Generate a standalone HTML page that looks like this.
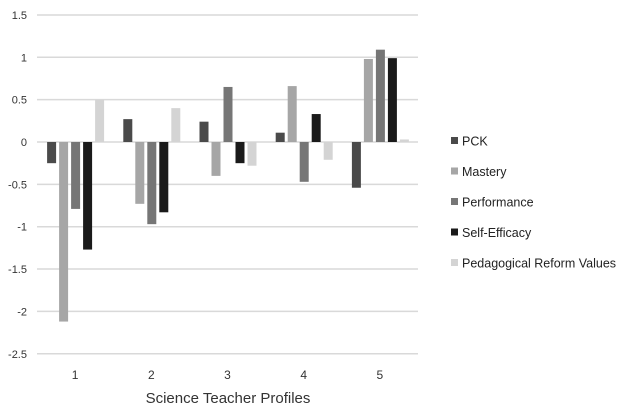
<!DOCTYPE html>
<html><head><meta charset="utf-8"><style>
body{margin:0;background:#fff;}
svg text{font-family:"Liberation Sans",sans-serif;}
</style></head><body>
<svg id="chart" width="627" height="408" xmlns="http://www.w3.org/2000/svg"></svg>
<script>
const categories=["1","2","3","4","5"];
const seriesNames=["PCK","Mastery","Performance","Self-Efficacy","Pedagogical Reform Values"];
const pck=[-0.25,0.27,0.24,0.11,-0.54];
const mastery=[-2.12,-0.73,-0.4,0.66,0.98];
const performance=[-0.79,-0.97,0.65,-0.47,1.09];
const selfEfficacy=[-1.27,-0.83,-0.25,0.33,0.99];
const reformValues=[0.5,0.4,-0.28,-0.21,0.03];
const yTicks=[1.5,1,0.5,0,-0.5,-1,-1.5,-2,-2.5];
const yTickLabels=["1.5","1","0.5","0","-0.5","-1","-1.5","-2","-2.5"];
const series=[pck,mastery,performance,selfEfficacy,reformValues];
const colors=["#4a4a4a","#a6a6a6","#767676","#1a1a1a","#d4d4d4"];
const NS="http://www.w3.org/2000/svg";
const svg=document.getElementById('chart');
const x0=37,x1=418,y0v=142,pxPerUnit=84.7;
const yScale=v=>y0v-v*pxPerUnit;
const groupW=(x1-x0)/categories.length;
const xCenter=i=>x0+groupW*(i+0.5);
function mk(tag,attrs){const e=document.createElementNS(NS,tag);for(const k in attrs)e.setAttribute(k,attrs[k]);svg.appendChild(e);return e;}
yTicks.forEach((t,i)=>{
  const g=mk('line',{x1:x0,x2:x1,y1:yScale(t),y2:yScale(t),stroke:"#d9d9d9","stroke-width":1.5});
  
  
  const l=mk('text',{x:27,y:yScale(t)+4,"text-anchor":"end","font-size":"11",fill:"#333"});
  l.textContent=yTickLabels[i];
  
  
});
categories.forEach((c,i)=>{
  series.forEach((s,j)=>{
    const v=s[i];
    const bx=xCenter(i)-28+j*12;
    const y=Math.min(yScale(v),yScale(0));
    const h=Math.abs(yScale(v)-yScale(0));
    const r=mk('rect',{x:bx,y:y,width:9,height:h,fill:colors[j]});
    
    
  });
  const t=mk('text',{x:xCenter(i),y:379,"text-anchor":"middle","font-size":"12",fill:"#333"});
  t.textContent=c;
  
  
});
const title=mk('text',{x:228,y:403,"text-anchor":"middle","font-size":"15",fill:"#333"});
title.textContent="Science Teacher Profiles";


seriesNames.forEach((n,j)=>{
  const y=141+j*30.5;
  const sq=mk('rect',{x:451,y:y-4,width:7,height:7,fill:colors[j]});
  
  
  const t=mk('text',{x:462,y:y+4.5,"font-size":"12.5",fill:"#222"});
  t.textContent=n;
  
  
});
</script>
</body></html>
